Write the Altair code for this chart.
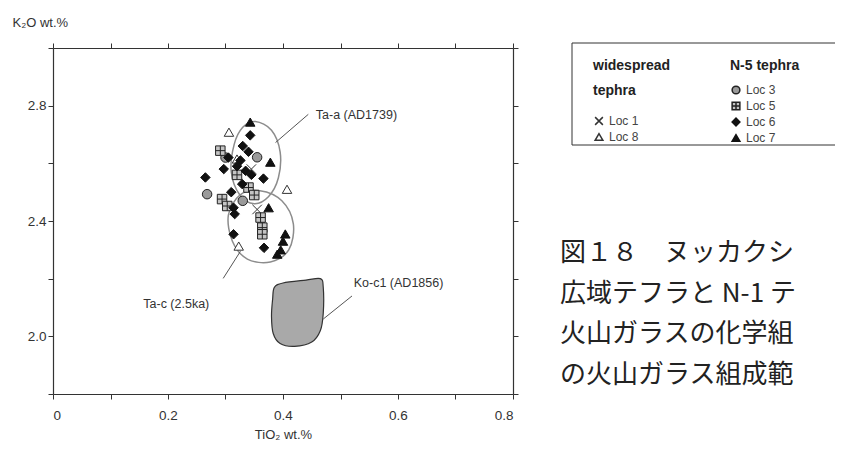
import altair as alt
import pandas as pd

# ---- axis ticks ----
x_ticks = [0.0, 0.1, 0.2, 0.3, 0.4, 0.5, 0.6, 0.7, 0.8]
y_ticks = [1.8, 2.0, 2.2, 2.4, 2.6, 2.8, 3.0]

# ---- widespread tephra ----
wide_loc = ["Loc 8", "Loc 8", "Loc 8", "Loc 8", "Loc 1", "Loc 1"]
wide_tio2 = [0.306, 0.320, 0.407, 0.323, 0.345, 0.355]
wide_k2o = [2.708, 2.615, 2.510, 2.313, 2.580, 2.440]

# ---- N-5 tephra ----
n5_loc = (["Loc 3"] * 4 + ["Loc 5"] * 9 + ["Loc 6"] * 17 + ["Loc 7"] * 7)
n5_tio2 = [0.355, 0.268, 0.330, 0.300,
           0.291, 0.294, 0.303, 0.340, 0.361, 0.364, 0.364, 0.350, 0.320,
           0.343, 0.297, 0.265, 0.366, 0.314, 0.326, 0.335, 0.329, 0.314, 0.316,
           0.367, 0.340, 0.310, 0.320, 0.345, 0.305, 0.330,
           0.343, 0.378, 0.375, 0.396, 0.404, 0.400, 0.390]
n5_k2o = [2.621, 2.493, 2.470, 2.620,
          2.644, 2.476, 2.452, 2.516, 2.412, 2.377, 2.354, 2.490, 2.560,
          2.697, 2.580, 2.551, 2.547, 2.354, 2.610, 2.574, 2.528, 2.446, 2.424,
          2.307, 2.640, 2.500, 2.590, 2.560, 2.620, 2.660,
          2.743, 2.604, 2.446, 2.300, 2.355, 2.330, 2.285]

# ---- composition fields (outline vertices) ----
ta_a_x = [0.352, 0.380, 0.395, 0.392, 0.375, 0.350, 0.325, 0.310, 0.315, 0.330]
ta_a_y = [2.745, 2.715, 2.640, 2.550, 2.485, 2.460, 2.490, 2.570, 2.665, 2.725]
ta_c_x = [0.360, 0.398, 0.418, 0.410, 0.378, 0.338, 0.312, 0.305, 0.325]
ta_c_y = [2.505, 2.470, 2.390, 2.300, 2.258, 2.268, 2.330, 2.420, 2.490]
ko_x = [0.385, 0.400, 0.440, 0.465, 0.470, 0.470, 0.465, 0.450, 0.420, 0.395, 0.383, 0.380, 0.382]
ko_y = [2.170, 2.185, 2.195, 2.200, 2.170, 2.080, 2.020, 1.980, 1.965, 1.975, 2.010, 2.070, 2.130]

# ---- annotations ----
label_text = ["Ta-a (AD1739)", "Ta-c (2.5ka)", "Ko-c1 (AD1856)"]
label_x = [0.457, 0.157, 0.523]
label_y = [2.766, 2.111, 2.184]
lead_x1 = [0.387, 0.296, 0.470]
lead_y1 = [2.672, 2.201, 2.060]
lead_x2 = [0.444, 0.326, 0.520]
lead_y2 = [2.770, 2.295, 2.140]

caption_lines = ["図１８　ヌッカクシ", "広域テフラと N-1 テ", "火山ガラスの化学組", "の火山ガラス組成範"]

FONT = "Liberation Sans"
xs = alt.Scale(domain=[0, 0.8], nice=False, zero=False)
ys = alt.Scale(domain=[1.8, 3.0], nice=False, zero=False)

x_label_expr = "round(datum.value*10) % 2 == 0 ? (datum.value == 0 ? '0' : format(datum.value, '.1f')) : ''"
y_label_expr = "round(datum.value*10) % 4 == 0 ? format(datum.value, '.1f') : ''"

wide_df = pd.DataFrame({"x": wide_tio2, "y": wide_k2o, "loc": wide_loc})
n5_df = pd.DataFrame({"x": n5_tio2, "y": n5_k2o, "loc": n5_loc})

fields = pd.DataFrame({
    "x": ta_a_x + ta_c_x,
    "y": ta_a_y + ta_c_y,
    "name": ["Ta-a"] * len(ta_a_x) + ["Ta-c"] * len(ta_c_x),
    "i": list(range(len(ta_a_x))) + list(range(len(ta_c_x))),
})
ko_df = pd.DataFrame({"x": ko_x, "y": ko_y, "i": list(range(len(ko_x)))})
lab_df = pd.DataFrame({"t": label_text, "x": label_x, "y": label_y})
lead_df = pd.DataFrame({"x": lead_x1, "y": lead_y1, "x2": lead_x2, "y2": lead_y2})

x_axis = alt.Axis(values=x_ticks, labelExpr=x_label_expr, title="TiO₂ wt.%",
                  titlePadding=7, labelPadding=9)
y_axis = alt.Axis(values=y_ticks, labelExpr=y_label_expr, title="K₂O wt.%",
                  titleAngle=0, titleAlign="left", titleX=-41, titleY=-26,
                  titleBaseline="middle")


def X():
    return alt.X("x:Q", scale=xs, axis=x_axis)


def Y():
    return alt.Y("y:Q", scale=ys, axis=y_axis)


blob = alt.Chart(ko_df).mark_line(
    interpolate="cardinal-closed", fill="#a9a9a9", stroke="#333", strokeWidth=1.2
).encode(x=X(), y=Y(), order="i:Q")

ellipses = alt.Chart(fields).mark_line(
    interpolate="cardinal-closed", color="#8c8c8c", strokeWidth=1.5
).encode(x=X(), y=Y(), detail="name:N", order="i:Q")

leaders = alt.Chart(lead_df).mark_rule(color="#555", strokeWidth=1).encode(
    x=X(), y=Y(), x2="x2:Q", y2="y2:Q"
)

labels = alt.Chart(lab_df).mark_text(
    align="left", baseline="middle", font=FONT, fontSize=12.5, color="#333"
).encode(x=X(), y=Y(), text="t:N")

CROSS = "M-1,-1L1,1M-1,1L1,-1"
GRIDSQ = "M-1,-1H1V1H-1Z M0,-1V1 M-1,0H1"

wide_leg = alt.Legend(title=["widespread", "tephra"], orient="none", legendX=540, legendY=11,
                      titleFont=FONT, titleFontSize=14, titleFontWeight="bold", titleColor="#222",
                      titleLineHeight=25, titlePadding=17, labelFont=FONT, labelFontSize=12,
                      labelColor="#444", symbolSize=60, rowPadding=2, padding=0)
n5_leg = alt.Legend(title="N-5 tephra", orient="none", legendX=677, legendY=11,
                    titleFont=FONT, titleFontSize=14, titleFontWeight="bold", titleColor="#222",
                    titlePadding=11, labelFont=FONT, labelFontSize=12,
                    labelColor="#444", symbolSize=60, rowPadding=2, padding=0)

wide_dom = ["Loc 1", "Loc 8"]
wide_pts = alt.Chart(wide_df).mark_point(filled=True, opacity=1, size=90, strokeWidth=1).encode(
    x=X(), y=Y(),
    shape=alt.Shape("loc:N", scale=alt.Scale(domain=wide_dom, range=[CROSS, "triangle-up"]), legend=wide_leg),
    fill=alt.Fill("loc:N", scale=alt.Scale(domain=wide_dom, range=["transparent", "white"]), legend=wide_leg),
    stroke=alt.Stroke("loc:N", scale=alt.Scale(domain=wide_dom, range=["#333", "#333"]), legend=wide_leg),
)

n5_dom = ["Loc 3", "Loc 5", "Loc 6", "Loc 7"]
n5_pts = alt.Chart(n5_df).mark_point(filled=True, opacity=1, size=90, strokeWidth=1).encode(
    x=X(), y=Y(),
    shape=alt.Shape("loc:N", scale=alt.Scale(domain=n5_dom, range=["circle", GRIDSQ, "diamond", "triangle-up"]), legend=n5_leg),
    fill=alt.Fill("loc:N", scale=alt.Scale(domain=n5_dom, range=["#9a9a9a", "#c4c4c4", "#111", "#111"]), legend=n5_leg),
    stroke=alt.Stroke("loc:N", scale=alt.Scale(domain=n5_dom, range=["#222", "#222", "#111", "#111"]), legend=n5_leg),
)

box = alt.Chart(pd.DataFrame({"a": [0]})).mark_rect(
    fill="white", stroke="#333", strokeWidth=1
).encode(x=alt.value(519), x2=alt.value(800), y=alt.value(-5), y2=alt.value(97))

caps = []
for k, line in enumerate(caption_lines):
    caps.append(
        alt.Chart(pd.DataFrame({"t": [line]})).mark_text(
            align="left", baseline="middle", font="Noto Sans CJK JP", fontSize=26, color="#222"
        ).encode(x=alt.value(507), y=alt.value(205 + 40.5 * k), text="t:N")
    )

main = alt.layer(box, blob, ellipses, leaders, labels, wide_pts, n5_pts, *caps).resolve_scale(
    shape="independent", fill="independent", stroke="independent"
)

frame = alt.Chart(pd.DataFrame({"x": [x_ticks[0]], "y": [y_ticks[0]]})).mark_point(opacity=0).encode(
    x=alt.X("x:Q", scale=xs, axis=alt.Axis(values=x_ticks, labels=False, title=None, orient="top")),
    y=alt.Y("y:Q", scale=ys, axis=alt.Axis(values=y_ticks, labels=False, title=None, orient="right")),
)

chart = alt.layer(main, frame).resolve_axis(x="independent", y="independent").properties(
    width=460, height=346,
    autosize=alt.AutoSizeParams(type="none"),
    padding={"left": 45, "top": 40, "right": 322, "bottom": 55},
).configure_view(stroke=None).configure_axis(
    domainColor="#333", tickColor="#333", labelColor="#333", titleColor="#333",
    labelFont=FONT, titleFont=FONT, labelFontSize=13.5, titleFontSize=13,
    titleFontWeight="normal", tickSize=5, grid=False, domainWidth=1.2, tickWidth=1
)

chart.save("out.html", embed_options={"renderer": "svg", "actions": False})
